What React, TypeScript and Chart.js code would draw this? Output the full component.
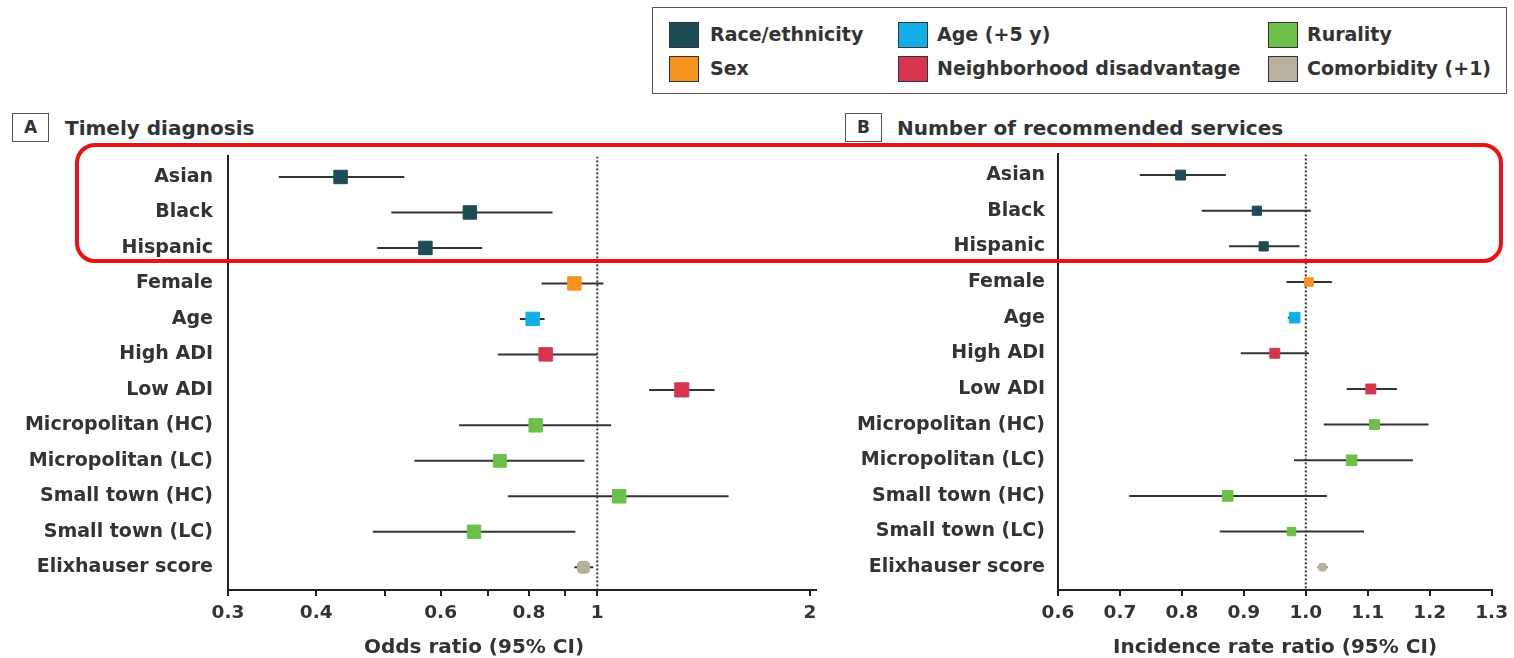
import React, { useEffect, useRef } from 'react';
import { Chart, registerables } from 'chart.js';

Chart.register(...registerables);

// ---------- data ----------
const LABELS = [
  'Asian', 'Black', 'Hispanic', 'Female', 'Age', 'High ADI', 'Low ADI',
  'Micropolitan (HC)', 'Micropolitan (LC)', 'Small town (HC)', 'Small town (LC)', 'Elixhauser score',
];
const ROW_GROUP = ['race', 'race', 'race', 'sex', 'age', 'ndi', 'ndi', 'rural', 'rural', 'rural', 'rural', 'comorb'];

const LEGEND_KEYS = ['race', 'age', 'rural', 'sex', 'ndi', 'comorb'];
const LEGEND_LABELS = ['Race/ethnicity', 'Age (+5 y)', 'Rurality', 'Sex', 'Neighborhood disadvantage', 'Comorbidity (+1)'];
const GROUP_COLORS: Record<string, string> = {
  race: '#1e4b55',
  sex: '#f7941d',
  age: '#12aee8',
  ndi: '#d7344f',
  rural: '#6cc04a',
  comorb: '#b8b09f',
};

// Panel A: timely diagnosis, odds ratios (log scale)
const A_OR = [0.433, 0.66, 0.571, 0.928, 0.81, 0.845, 1.317, 0.818, 0.728, 1.074, 0.669, 0.956];
const A_LO = [0.354, 0.511, 0.488, 0.834, 0.777, 0.723, 1.184, 0.637, 0.551, 0.747, 0.481, 0.928];
const A_HI = [0.533, 0.864, 0.687, 1.02, 0.842, 1.0, 1.466, 1.046, 0.959, 1.534, 0.931, 0.987];
const A_TICKS = [0.3, 0.4, 0.5, 0.6, 0.7, 0.8, 0.9, 1, 2];
const A_TICK_LABELS = ['0.3', '0.4', '', '0.6', '', '0.8', '', '1', '2'];
const A_RADIUS = [9.5, 9.5, 9.5, 9.5, 9.5, 9.5, 10, 9.5, 9, 9.5, 9.5, 7];

// Panel B: number of recommended services, incidence rate ratios
const B_IRR = [0.798, 0.921, 0.932, 1.005, 0.982, 0.95, 1.105, 1.111, 1.074, 0.874, 0.977, 1.027];
const B_LO = [0.732, 0.832, 0.876, 0.969, 0.971, 0.895, 1.066, 1.029, 0.981, 0.715, 0.861, 1.019];
const B_HI = [0.871, 1.008, 0.99, 1.042, 0.99, 1.005, 1.147, 1.198, 1.173, 1.034, 1.094, 1.035];
const B_TICKS = [0.6, 0.7, 0.8, 0.9, 1.0, 1.1, 1.2, 1.3];
const B_TICK_LABELS = ['0.6', '0.7', '0.8', '0.9', '1.0', '1.1', '1.2', '1.3'];
const B_RADIUS = [7, 6.5, 6.5, 6, 7.5, 7, 7, 7, 7.5, 7.5, 6, 4.5];

const Y_MIN = -0.58;
const Y_MAX = 11.64;
const FONT = '"DejaVu Sans", "Open Sans", sans-serif';
const TEXT = '#333333';
const AXIS = '#222222';

const CANVAS_TOP = 130;
const CANVAS_H = 528;
const AREA_TOP = 150;
const AREA_BOTTOM = 590;

type PanelSpec = {
  est: number[];
  lo: number[];
  hi: number[];
  ticks: number[];
  tickLabels: string[];
  radius: number[];
  log: boolean;
  min: number;
  max: number;
  areaLeft: number;
  areaRight: number;
  labelPad: number;
};

type LayoutState = { yW: number; xH: number; padTop: number; padRight: number };

function buildConfig(p: PanelSpec, st: LayoutState): any {
  const colors = ROW_GROUP.map((g) => GROUP_COLORS[g]);
  const datasets: any[] = [
    {
      data: p.est.map((v, i) => ({ x: v, y: i })),
      pointStyle: ROW_GROUP.map((g) => (g === 'comorb' ? 'rectRounded' : 'rect')),
      pointRadius: p.radius,
      backgroundColor: colors,
      borderColor: colors,
      borderWidth: 1,
      order: 0,
    },
  ];
  p.lo.forEach((lo, i) => {
    datasets.push({
      data: [
        { x: lo, y: i },
        { x: p.hi[i], y: i },
      ],
      showLine: true,
      borderColor: '#333333',
      borderWidth: 2,
      pointRadius: 0,
      order: 1,
    });
  });
  datasets.push({
    data: [
      { x: 1, y: Y_MIN },
      { x: 1, y: Y_MAX },
    ],
    showLine: true,
    borderColor: '#333333',
    borderWidth: 2,
    borderDash: [2, 2],
    pointRadius: 0,
    order: 2,
  });

  return {
    type: 'scatter',
    data: { datasets },
    options: {
      animation: false,
      responsive: false,
      events: [],
      layout: { padding: () => ({ top: st.padTop, right: st.padRight, left: 0, bottom: 0 }) },
      plugins: { legend: { display: false }, tooltip: { enabled: false } },
      scales: {
        x: {
          type: p.log ? 'logarithmic' : 'linear',
          min: p.min,
          max: p.max,
          afterBuildTicks: (s: any) => {
            s.ticks = p.ticks.map((v) => ({ value: v }));
          },
          afterFit: (s: any) => {
            s.height = st.xH;
          },
          ticks: {
            autoSkip: false,
            maxRotation: 0,
            padding: 6,
            color: TEXT,
            font: { family: FONT, size: 18.5, weight: 'bold' },
            callback: (_v: any, i: number) => p.tickLabels[i],
          },
          grid: { display: true, drawOnChartArea: false, drawTicks: true, tickLength: 6, color: AXIS, lineWidth: 2 },
          border: { display: true, color: AXIS, width: 2 },
        },
        y: {
          type: 'linear',
          reverse: true,
          min: Y_MIN,
          max: Y_MAX,
          afterBuildTicks: (s: any) => {
            s.ticks = LABELS.map((_, i) => ({ value: i }));
          },
          afterFit: (s: any) => {
            s.width = st.yW;
          },
          ticks: {
            autoSkip: false,
            padding: p.labelPad,
            color: TEXT,
            font: { family: FONT, size: 19, weight: 'bold' },
            callback: (v: any) => LABELS[v as number],
          },
          grid: { display: false, drawTicks: false },
          border: { display: true, color: AXIS, width: 2 },
        },
      },
    },
  };
}

function Panel({ spec, left, width }: { spec: PanelSpec; left: number; width: number }) {
  const ref = useRef<HTMLCanvasElement | null>(null);
  useEffect(() => {
    if (!ref.current) return;
    const st: LayoutState = {
      yW: spec.areaLeft - left,
      xH: CANVAS_TOP + CANVAS_H - AREA_BOTTOM,
      padTop: AREA_TOP - CANVAS_TOP,
      padRight: left + width - spec.areaRight,
    };
    const chart: any = new Chart(ref.current, buildConfig(spec, st));
    // nudge the layout so the plot area sits where the reference has it
    for (let k = 0; k < 4; k++) {
      const a = chart.chartArea;
      const dTop = AREA_TOP - CANVAS_TOP - a.top;
      const dBottom = a.bottom - (AREA_BOTTOM - CANVAS_TOP);
      const dLeft = a.left - (spec.areaLeft - left);
      const dRight = a.right - (spec.areaRight - left);
      if (Math.abs(dTop) + Math.abs(dBottom) + Math.abs(dLeft) + Math.abs(dRight) < 0.5) break;
      st.padTop += dTop;
      st.xH += dBottom;
      st.yW -= dLeft;
      st.padRight += dRight;
      chart.update();
    }
    return () => chart.destroy();
  }, []);
  return (
    <div style={{ position: 'absolute', left, top: CANVAS_TOP, width, height: CANVAS_H }}>
      <canvas ref={ref} width={width} height={CANVAS_H} style={{ width, height: CANVAS_H, display: 'block' }} />
    </div>
  );
}

const textBase: React.CSSProperties = {
  position: 'absolute',
  fontFamily: FONT,
  color: TEXT,
  whiteSpace: 'nowrap',
  lineHeight: 1,
};

function Legend() {
  const colX = [669, 898, 1268];
  const textX = [710, 937, 1307];
  const rowY = [22, 56];
  return (
    <>
      <div
        style={{
          position: 'absolute',
          left: 652,
          top: 7,
          width: 855,
          height: 87,
          border: '1.5px solid #555',
          boxSizing: 'border-box',
        }}
      />
      {LEGEND_KEYS.map((k, i) => {
        const col = i % 3;
        const row = Math.floor(i / 3);
        return (
          <React.Fragment key={k}>
            <div
              style={{
                position: 'absolute',
                left: colX[col],
                top: rowY[row],
                width: 30,
                height: 26,
                background: GROUP_COLORS[k],
                border: '1.5px solid #333',
                boxSizing: 'border-box',
              }}
            />
            <div style={{ ...textBase, left: textX[col], top: rowY[row] + 3, fontSize: 19, fontWeight: 'bold' }}>
              {LEGEND_LABELS[i]}
            </div>
          </React.Fragment>
        );
      })}
    </>
  );
}

function PanelTitle({ letter, text, left, textLeft }: { letter: string; text: string; left: number; textLeft: number }) {
  return (
    <>
      <div
        style={{
          ...textBase,
          left,
          top: 113,
          width: 37,
          height: 29,
          border: '1.5px solid #555',
          boxSizing: 'border-box',
          display: 'flex',
          alignItems: 'center',
          justifyContent: 'center',
          fontWeight: 'bold',
          fontSize: 17,
        }}
      >
        {letter}
      </div>
      <div style={{ ...textBase, left: textLeft, top: 118, fontSize: 20, fontWeight: 'bold' }}>{text}</div>
    </>
  );
}

export default function App() {
  const specA: PanelSpec = {
    est: A_OR, lo: A_LO, hi: A_HI, ticks: A_TICKS, tickLabels: A_TICK_LABELS, radius: A_RADIUS,
    log: true, min: 0.3, max: 2.04, areaLeft: 228, areaRight: 816, labelPad: 15,
  };
  const specB: PanelSpec = {
    est: B_IRR, lo: B_LO, hi: B_HI, ticks: B_TICKS, tickLabels: B_TICK_LABELS, radius: B_RADIUS,
    log: false, min: 0.6, max: 1.3, areaLeft: 1058, areaRight: 1492, labelPad: 13,
  };
  return (
    <div style={{ position: 'fixed', left: 0, top: 0, width: 1514, height: 658, background: '#fff', overflow: 'hidden' }}>
      <Legend />
      <PanelTitle letter="A" text="Timely diagnosis" left={12} textLeft={65} />
      <PanelTitle letter="B" text="Number of recommended services" left={845} textLeft={897} />
      <Panel spec={specA} left={0} width={840} />
      <Panel spec={specB} left={840} width={674} />
      <div style={{ ...textBase, left: 474, top: 636, fontSize: 20, fontWeight: 'bold', transform: 'translateX(-50%)' }}>
        Odds ratio (95% CI)
      </div>
      <div style={{ ...textBase, left: 1275, top: 636, fontSize: 20, fontWeight: 'bold', transform: 'translateX(-50%)' }}>
        Incidence rate ratio (95% CI)
      </div>
      <div
        style={{
          position: 'absolute',
          left: 75,
          top: 143,
          width: 1428,
          height: 120,
          border: '4px solid #ee1111',
          borderRadius: 20,
          boxSizing: 'border-box',
          pointerEvents: 'none',
        }}
      />
    </div>
  );
}
